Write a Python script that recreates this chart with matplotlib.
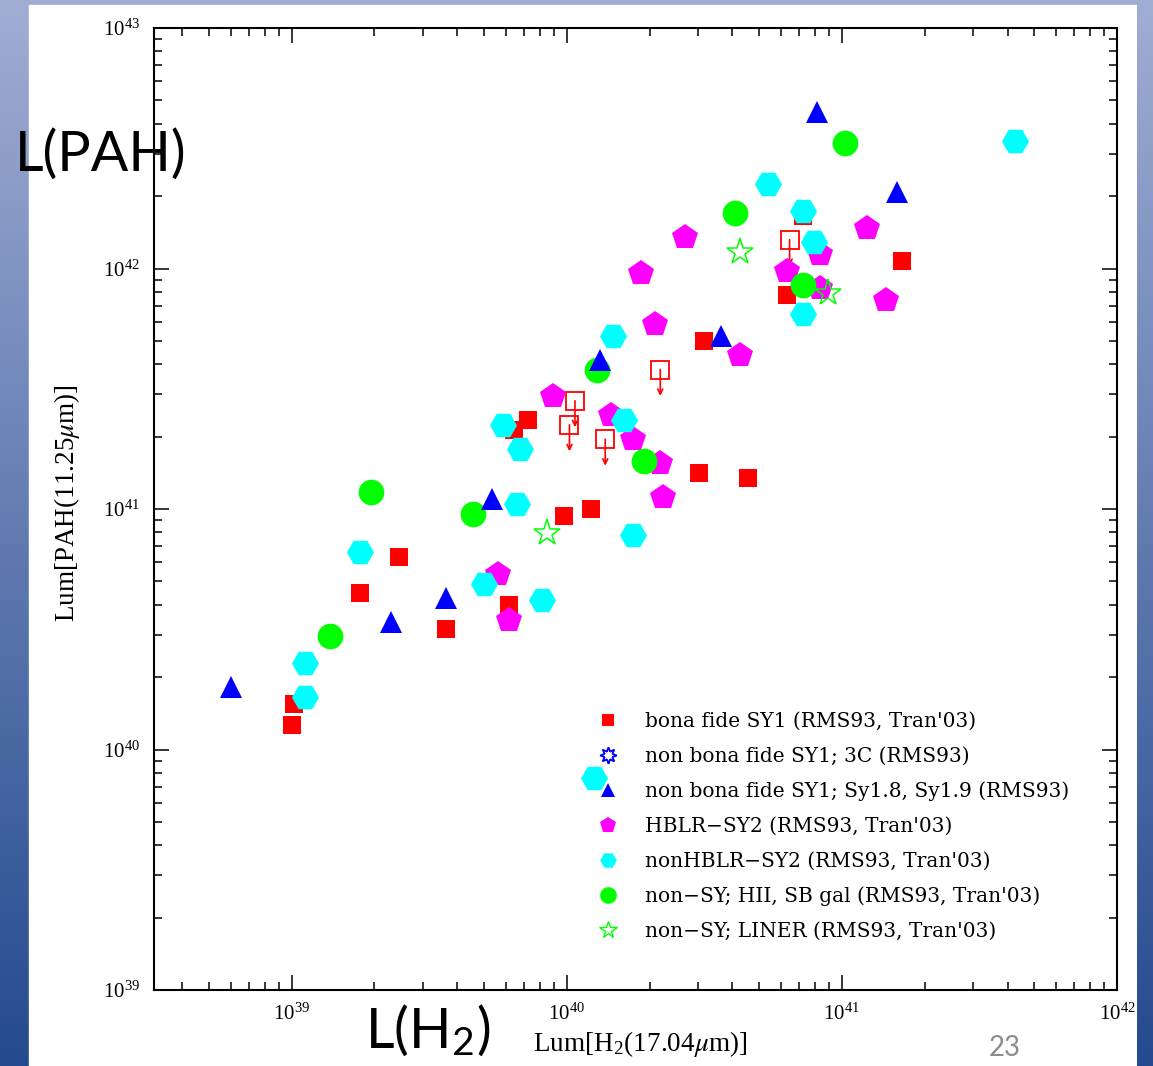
import numpy as np
import matplotlib.pyplot as plt
from matplotlib.patches import Rectangle
from matplotlib.colors import LinearSegmentedColormap
from matplotlib.lines import Line2D
from matplotlib.font_manager import FontProperties

plt.rcParams['font.family'] = 'Liberation Serif'
plt.rcParams['mathtext.fontset'] = 'stix'

# log10 luminosities
sy1_x = [39.00, 39.01, 39.25, 39.39, 39.56, 39.79, 39.81, 39.86, 39.99, 40.09,
         40.48, 40.66, 40.50, 40.80, 40.86, 41.22]
sy1_y = [40.10, 40.19, 40.65, 40.80, 40.50, 40.60, 41.33, 41.37, 40.97, 41.00,
         41.15, 41.13, 41.70, 41.89, 42.22, 42.03]

# upper limits (open squares with arrows)
lim_x = [40.34, 40.03, 40.01, 40.14, 40.81]
lim_y = [41.58, 41.45, 41.35, 41.29, 42.12]

sy18_x = [38.78, 39.36, 39.56, 39.73, 40.12, 40.56, 40.91, 41.20]
sy18_y = [40.26, 40.53, 40.63, 41.04, 41.62, 41.72, 42.65, 42.32]

hblr_x = [39.79, 39.75, 39.95, 40.16, 40.24, 40.34, 40.35, 40.32, 40.63, 40.27,
          40.43, 40.80, 40.92, 40.92, 41.09, 41.16]
hblr_y = [40.54, 40.73, 41.47, 41.39, 41.29, 41.19, 41.05, 41.77, 41.64, 41.98,
          42.13, 41.99, 42.06, 41.92, 42.17, 41.87]

nonhblr_x = [40.10, 39.05, 39.05, 39.25, 39.70, 39.91, 39.82, 39.83, 39.77, 40.17,
             40.21, 40.24, 40.73, 40.86, 40.90, 40.86, 41.63]
nonhblr_y = [39.88, 40.36, 40.22, 40.82, 40.69, 40.62, 41.02, 41.25, 41.35, 41.72,
             41.37, 40.89, 42.35, 42.24, 42.11, 41.81, 42.53]

hii_x = [39.14, 39.29, 39.66, 40.11, 40.28, 40.61, 40.86, 41.01]
hii_y = [40.47, 41.07, 40.98, 41.58, 41.20, 42.23, 41.93, 42.52]

liner_x = [39.93, 40.63, 40.95]
liner_y = [40.90, 42.07, 41.90]

labels = ["bona fide SY1 (RMS93, Tran'03)",
          "non bona fide SY1; 3C (RMS93)",
          "non bona fide SY1; Sy1.8, Sy1.9 (RMS93)",
          "HBLR\u2212SY2 (RMS93, Tran'03)",
          "nonHBLR\u2212SY2 (RMS93, Tran'03)",
          "non\u2212SY; HII, SB gal (RMS93, Tran'03)",
          "non\u2212SY; LINER (RMS93, Tran'03)"]

W, H = 1153, 1066
fig = plt.figure(figsize=(W / 100, H / 100), dpi=100)

# slide background
grad = np.linspace(0, 1, 256).reshape(-1, 1)
slide = LinearSegmentedColormap.from_list('slide', [(0.63, 0.68, 0.83), (0.14, 0.29, 0.56)])
bg = fig.add_axes([0, 0, 1, 1], zorder=-10)
bg.imshow(grad, aspect='auto', cmap=slide, extent=[0, 1, 0, 1])
bg.add_patch(Rectangle((29 / W, 0), (1137 - 29) / W, (H - 5) / H, color='white'))
bg.set_xlim(0, 1)
bg.set_ylim(0, 1)
bg.axis('off')

ax = fig.add_axes([154 / W, 76 / H, 963 / W, 962 / H])
p = lambda v: 10 ** np.array(v)

ax.plot(p(sy1_x), p(sy1_y), ls='none', marker='s', ms=13.5, mfc='red', mec='red', mew=0, zorder=3)
ax.plot(p(lim_x), p(lim_y), ls='none', marker='s', ms=13.5, mfc='none', mec='red', mew=1.3, zorder=3)
for lx, ly in zip(p(lim_x), p(lim_y)):
    ax.annotate('', xy=(lx, ly * 10 ** -0.11), xytext=(lx, ly),
                arrowprops=dict(arrowstyle='->', color='red', lw=1.2,
                                shrinkA=0, shrinkB=0, mutation_scale=9), zorder=3)
ax.plot(p(hblr_x), p(hblr_y), ls='none', marker='p', ms=19, mfc='magenta', mec='magenta', mew=0, zorder=4)
ax.plot(p(nonhblr_x), p(nonhblr_y), ls='none', marker='H', ms=19.5, mfc='cyan', mec='cyan', mew=0, zorder=5)
ax.plot(p(hii_x), p(hii_y), ls='none', marker='o', ms=18.5, mfc='lime', mec='lime', mew=0, zorder=6)
ax.plot(p(sy18_x), p(sy18_y), ls='none', marker='^', ms=16, mfc='blue', mec='blue', mew=0, zorder=7)
ax.plot(p(liner_x), p(liner_y), ls='none', marker='*', ms=20, mfc='none', mec='lime', mew=1.1, zorder=8)

ax.set_xscale('log')
ax.set_yscale('log')
ax.set_xlim(10 ** 38.5, 1e42)
ax.set_ylim(1e39, 1e43)
for s in ax.spines.values():
    s.set_linewidth(1.5)
ax.tick_params(which='both', direction='in', top=True, right=True, width=1.1, labelsize=15)
ax.tick_params(which='major', length=11, pad=10)
ax.tick_params(which='minor', length=6)

ax.set_xlabel(r'Lum[H$_{\mathdefault{2}}$(17.04$\mu$m)]', fontsize=19.5)
ax.set_ylabel(r'Lum[PAH(11.25$\mu$m)]', fontsize=19.5)
ax.xaxis.set_label_coords(0.505, -0.041)
ax.yaxis.set_label_coords(-0.075, 0.506)

leg_handles = [Line2D([], [], ls='none', marker='s', ms=8.5, mfc='red', mec='red', mew=0),
               Line2D([], [], ls='none', marker=(8, 1, 0), ms=12, mfc='none', mec='blue', mew=1.3),
               Line2D([], [], ls='none', marker='^', ms=10, mfc='blue', mec='blue', mew=0),
               Line2D([], [], ls='none', marker='p', ms=12, mfc='magenta', mec='magenta', mew=0),
               Line2D([], [], ls='none', marker='H', ms=12, mfc='cyan', mec='cyan', mew=0),
               Line2D([], [], ls='none', marker='o', ms=12, mfc='lime', mec='lime', mew=0),
               Line2D([], [], ls='none', marker='*', ms=13, mfc='none', mec='lime', mew=1.0)]
ax.legend(leg_handles, labels, loc='center left', bbox_to_anchor=((598 - 154) / 963, 0.17),
          frameon=False, prop=FontProperties(family='DejaVu Serif', size=14.5), borderpad=0,
          borderaxespad=0, handlelength=0.97, handletextpad=1.36, labelspacing=0.785)

# slide annotations
fig.text(15 / W, 1 - 155 / H, 'L(PAH)', fontsize=40, family='Lato', va='center', ha='left')
fig.text(365 / W, 1 - 1030 / H, r'L(H$_{\mathdefault{2}}$)', fontsize=40, family='Lato', va='center', ha='left')
fig.text(1005 / W, 1 - 1048 / H, '23', fontsize=20, family='Lato', color='#8c8c8c', va='center', ha='center')

# right edge of the slide
rs = fig.add_axes([1137 / W, 0, 16 / W, 1], zorder=10)
rs.imshow(grad, aspect='auto', cmap=slide, extent=[0, 1, 0, 1])
rs.axis('off')

fig.savefig('out.png', dpi=100)
